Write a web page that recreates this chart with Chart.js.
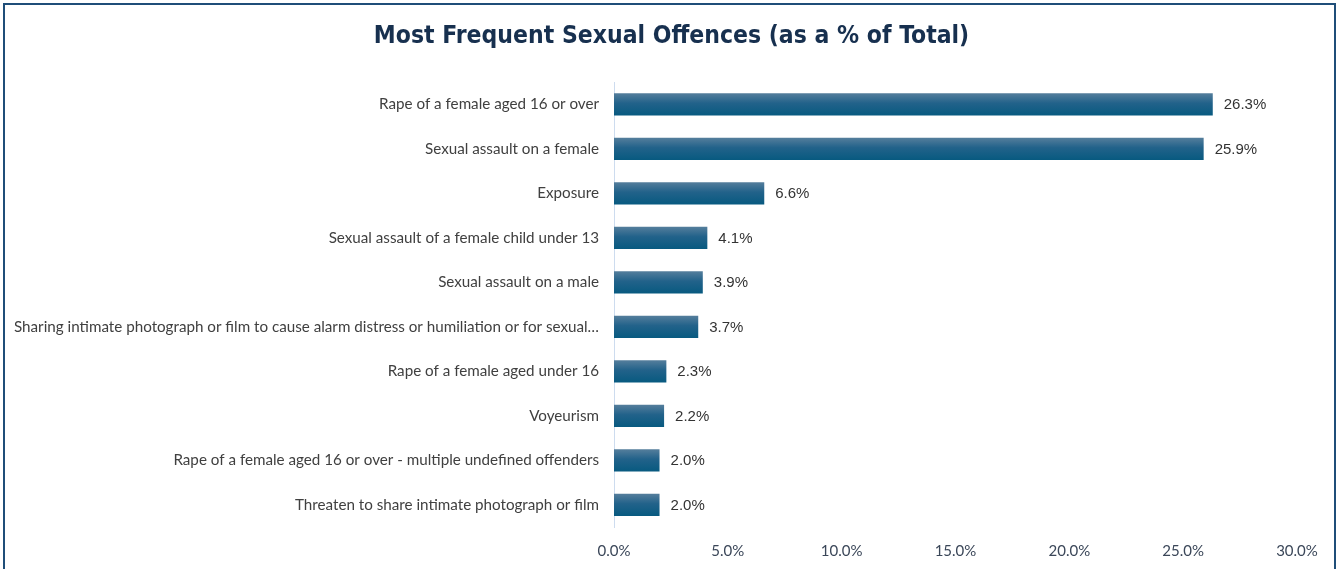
<!DOCTYPE html>
<html lang="en">
<head>
  <meta charset="UTF-8">
  <title>Most Frequent Sexual Offences</title>
  <script src="https://cdn.jsdelivr.net/npm/chart.js"></script>
  <style>
    html, body { margin: 0; padding: 0; background: #fff; }
    #frame {
      position: absolute; left: 3px; top: 3px; width: 1329px; height: 600px;
      border: 2px solid #1f4e79;
    }
    #wrap { position: absolute; left: 0; top: 0; width: 1339px; height: 569px; }
  </style>
</head>
<body>
  <div id="frame"></div>
  <div id="wrap"><canvas id="offencesChart" width="1339" height="569"></canvas></div>

  <script>
    const chartTitle = 'Most Frequent Sexual Offences (as a % of Total)';
    const offences = [
      'Rape of a female aged 16 or over',
      'Sexual assault on a female',
      'Exposure',
      'Sexual assault of a female child under 13',
      'Sexual assault on a male',
      'Sharing intimate photograph or film to cause alarm distress or humiliation or for sexual\u2026',
      'Rape of a female aged under 16',
      'Voyeurism',
      'Rape of a female aged 16 or over - multiple undefined offenders',
      'Threaten to share intimate photograph or film'
    ];
    const sharePct = [26.3, 25.9, 6.6, 4.1, 3.9, 3.7, 2.3, 2.2, 2.0, 2.0];
    const xTicks = [0, 5, 10, 15, 20, 25, 30];

    // per-bar vertical gradient, light at the top edge, dark at the bottom
    function barFill(ctx) {
      const chart = ctx.chart;
      const y = chart.scales.y;
      if (!y || ctx.dataIndex === undefined) return '#1a5f85';
      const mid = y.getPixelForValue(ctx.dataIndex);
      if (!isFinite(mid)) return '#1a5f85';
      const half = 11;
      const g = chart.ctx.createLinearGradient(0, mid - half, 0, mid + half);
      g.addColorStop(0, '#557e9c');
      g.addColorStop(0.45, '#22628a');
      g.addColorStop(1, '#085a80');
      return g;
    }

    // title centred on the full frame rather than on the padded layout box
    const frameTitle = {
      id: 'frameTitle',
      afterDraw(chart) {
        const c = chart.ctx;
        c.save();
        c.font = 'bold 24.5px "DejaVu Sans Condensed", sans-serif';
        c.fillStyle = '#17304f';
        c.textAlign = 'center';
        c.textBaseline = 'middle';
        c.fillText(chartTitle, chart.width / 2 + 2, 37);
        c.restore();
      }
    };

    const valueLabels = {
      id: 'valueLabels',
      afterDatasetsDraw(chart) {
        const c = chart.ctx;
        const meta = chart.getDatasetMeta(0);
        c.save();
        c.font = '15px "Liberation Sans", Arial, sans-serif';
        c.fillStyle = '#333333';
        c.textAlign = 'left';
        c.textBaseline = 'middle';
        meta.data.forEach((bar, i) => {
          c.fillText(sharePct[i].toFixed(1) + '%', bar.x + 11, bar.y + 1);
        });
        c.restore();
      }
    };

    new Chart(document.getElementById('offencesChart'), {
      type: 'bar',
      data: {
        labels: offences,
        datasets: [{
          data: sharePct,
          backgroundColor: barFill,
          borderWidth: 0,
          barPercentage: 0.5,
          categoryPercentage: 1.0
        }]
      },
      plugins: [valueLabels, frameTitle],
      options: {
        indexAxis: 'y',
        responsive: false,
        animation: false,
        layout: { padding: { left: 5, right: 42, top: 82, bottom: 0 } },
        plugins: {
          legend: { display: false },
          tooltip: { enabled: false },
          title: { display: false }
        },
        scales: {
          x: {
            min: 0,
            max: 30,
            afterBuildTicks(scale) { scale.ticks = xTicks.map(v => ({ value: v })); },
            afterFit(scale) { scale.height = 42; },
            grid: { display: false, drawTicks: false },
            border: { display: false },
            ticks: {
              padding: 15,
              color: '#3b4759',
              font: { family: 'Lato, sans-serif', size: 15 },
              callback: v => v.toFixed(1) + '%'
            }
          },
          y: {
            afterFit(scale) { scale.width = 609; },
            grid: { display: false, drawTicks: false },
            border: { display: true, color: '#cddcef', width: 1 },
            ticks: {
              padding: 15,
              color: '#404040',
              font: { family: 'Lato, sans-serif', size: 15.2 }
            }
          }
        }
      }
    });
  </script>
</body>
</html>
